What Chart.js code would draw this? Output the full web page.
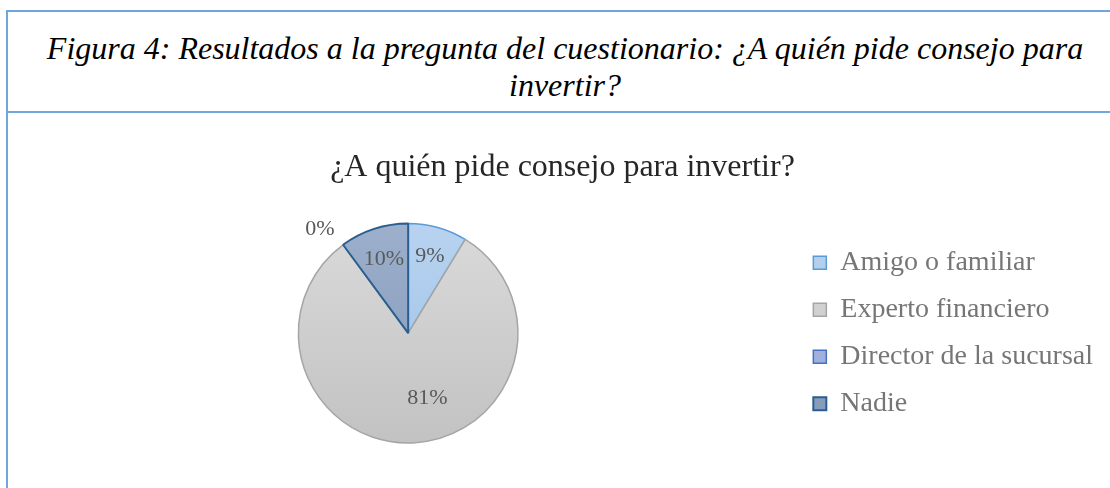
<!DOCTYPE html>
<html><head><meta charset="utf-8">
<script src="https://cdn.jsdelivr.net/npm/chart.js@4.4.1/dist/chart.umd.min.js"></script>
<style>
html,body{margin:0;padding:0;background:#fff;width:1110px;height:488px;overflow:hidden;position:relative;}
.frame{position:absolute;left:6px;top:10px;width:1130px;height:600px;border:2px solid #6fa6dc;box-sizing:border-box;}
.divider{position:absolute;left:6px;top:111px;width:1130px;height:2px;background:#6fa6dc;}
.caption{position:absolute;left:8px;width:1114px;top:30px;text-align:center;font:italic 32px/37px "Liberation Serif","Times New Roman",serif;color:#000;white-space:nowrap;}
#chart{position:absolute;left:9px;top:113px;}
</style></head><body>
<div class="frame"></div><div class="divider"></div>
<div class="caption">Figura 4: Resultados a la pregunta del cuestionario: ¿A quién pide consejo para<br>invertir?</div>
<canvas id="chart" width="1101" height="375"></canvas>
<script>
const chartTitle = '¿A quién pide consejo para invertir?';
const categories = ['Amigo o familiar', 'Experto financiero', 'Director de la sucursal', 'Nadie'];
const shares = [8.7, 81.2, 0, 10.1];

const fillTop = ['#b8d3f0', '#dadada', '#b2bee4', '#9cafcb'];
const fillBottom = ['#9bbfe6', '#c2c2c2', '#95a6d8', '#8297ba'];
const edgeColors = ['#5b9bd5', '#a5a5a5', '#4472c4', '#2b5e90'];
const edgeWidths = [1.5, 1.5, 1.5, 2];
// label anchor: fraction of radius, angular shift in degrees (style only)
const labelPlacement = [{r:0.73, da:0}, {r:0.62, da:-14}, {r:1.24, da:-4}, {r:0.71, da:0}];
const serif = '"Liberation Serif", "Times New Roman", serif';

function sliceFill(context) {
  const i = context.dataIndex;
  const area = context.chart.chartArea;
  if (!area) return fillTop[i];
  const g = context.chart.ctx.createLinearGradient(0, area.top, 0, area.bottom);
  g.addColorStop(0, fillTop[i]);
  g.addColorStop(1, fillBottom[i]);
  return g;
}

const pctLabels = {
  id: 'pctLabels',
  afterDatasetsDraw(chart) {
    const ctx = chart.ctx;
    const meta = chart.getDatasetMeta(0);
    const data = chart.data.datasets[0].data;
    const total = data.reduce((a, b) => a + b, 0);
    ctx.save();
    ctx.font = '22px ' + serif;
    ctx.fillStyle = '#595959';
    ctx.textAlign = 'center';
    ctx.textBaseline = 'middle';
    meta.data.forEach((arc, i) => {
      const p = arc.getProps(['x', 'y', 'startAngle', 'endAngle', 'outerRadius'], true);
      const pl = labelPlacement[i];
      const a = (p.startAngle + p.endAngle) / 2 + pl.da * Math.PI / 180;
      const r = p.outerRadius * pl.r;
      ctx.fillText(Math.round(data[i] / total * 100) + '%', p.x + Math.cos(a) * r, p.y + Math.sin(a) * r);
    });
    ctx.restore();
  }
};

new Chart(document.getElementById('chart'), {
  type: 'pie',
  data: {
    labels: categories,
    datasets: [{
      data: shares,
      backgroundColor: sliceFill,
      borderColor: edgeColors,
      borderWidth: edgeWidths
    }]
  },
  options: {
    responsive: false,
    animation: false,
    devicePixelRatio: 1,
    layout: { padding: { left: 13, right: 7, top: 0, bottom: 44 } },
    plugins: {
      title: {
        display: true,
        text: chartTitle,
        color: '#262626',
        font: { family: serif, size: 32, weight: 'normal', lineHeight: 1.2 },
        padding: { top: 35, bottom: 36 }
      },
      legend: {
        display: true,
        position: 'right',
        fullSize: false,
        labels: {
          color: '#767676',
          font: { family: serif, size: 28 },
          boxWidth: 13,
          boxHeight: 13,
          padding: 19
        }
      },
      tooltip: { enabled: false }
    }
  },
  plugins: [pctLabels]
});
</script>
</body></html>
